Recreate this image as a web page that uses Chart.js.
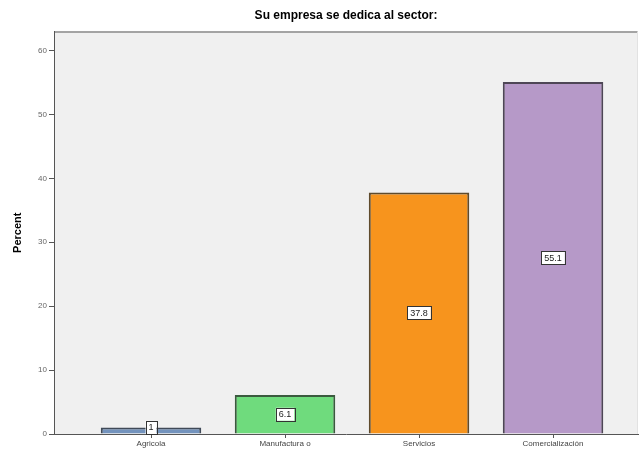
<!DOCTYPE html>
<html>
<head>
<meta charset="utf-8">
<script src="https://cdn.jsdelivr.net/npm/chart.js@4/dist/chart.umd.min.js"></script>
<style>
    html, body { margin: 0; padding: 0; background: #ffffff; }
    #wrap { width: 644px; height: 454px; position: relative; }
</style>
</head>
<body>
<div id="wrap"><canvas id="sector-chart"></canvas></div>
<script>
// Data
const categories = ['Agricola', 'Manufactura o', 'Servicios', 'Comercialización'];
const percents = [1.0, 6.1, 37.8, 55.1];
const valueLabels = ['1', '6.1', '37.8', '55.1'];
const yTicks = [0, 10, 20, 30, 40, 50, 60];

const barColors = ['#7393bd', '#6fdb7d', '#f7941d', '#b699c8'];
const barBorders = ['#404a58', '#3a5a3e', '#5e4a2c', '#4e4656'];

// Gray plot background with a top frame line
const plotBackground = {
    id: 'plotBackground',
    beforeDraw(chart) {
        const { ctx, chartArea: a } = chart;
        ctx.save();
        ctx.fillStyle = '#f0f0f0';
        ctx.fillRect(a.left, a.top, a.right - a.left, a.bottom - a.top);
        ctx.strokeStyle = '#8a8a8a';
        ctx.lineWidth = 1.5;
        ctx.beginPath();
        ctx.moveTo(a.left, a.top + 0.5);
        ctx.lineTo(a.right, a.top + 0.5);
        ctx.stroke();
        ctx.strokeStyle = '#e2e2e2';
        ctx.lineWidth = 1;
        ctx.beginPath();
        ctx.moveTo(a.right - 0.5, a.top);
        ctx.lineTo(a.right - 0.5, a.bottom);
        ctx.stroke();
        ctx.restore();
    }
};

// Boxed value labels in the middle of each bar
const boxedLabels = {
    id: 'boxedLabels',
    afterDatasetsDraw(chart) {
        const { ctx } = chart;
        const meta = chart.getDatasetMeta(0);
        ctx.save();
        ctx.font = '9px "Liberation Sans", Arial, sans-serif';
        ctx.textAlign = 'center';
        ctx.textBaseline = 'middle';
        meta.data.forEach((bar, i) => {
            const text = valueLabels[i];
            const cx = bar.x;
            const cy = Math.min((bar.y + bar.base) / 2, bar.base - 6);
            const w = ctx.measureText(text).width + 6;
            const h = 13;
            ctx.fillStyle = '#ffffff';
            ctx.fillRect(cx - w / 2, cy - h / 2, w, h);
            ctx.strokeStyle = '#333333';
            ctx.lineWidth = 1;
            ctx.strokeRect(Math.round(cx - w / 2) + 0.5, Math.round(cy - h / 2) + 0.5, Math.round(w), h);
            ctx.fillStyle = '#222222';
            ctx.fillText(text, cx, cy + 0.5);
        });
        ctx.restore();
    }
};

const ctx = document.getElementById('sector-chart').getContext('2d');
const sectorChart = new Chart(ctx, {
    type: 'bar',
    data: {
        datasets: [{
            label: 'Percent',
            data: percents.map((v, i) => ({ x: i, y: v })),
            backgroundColor: barColors,
            borderColor: barBorders,
            borderWidth: 2,
            categoryPercentage: 1,
            barPercentage: 0.75
        }]
    },
    options: {
        responsive: true,
        maintainAspectRatio: false,
        animation: false,
        layout: { padding: { left: 0, right: 6, top: 0, bottom: 0 } },
        plugins: {
            legend: { display: false },
            tooltip: { enabled: false },
            title: {
                display: true,
                fullSize: false,
                text: 'Su empresa se dedica al sector:',
                color: '#000000',
                font: { family: '"Liberation Sans", Arial, sans-serif', size: 12, weight: 'bold' },
                padding: { top: 8, bottom: 9 }
            }
        },
        scales: {
            x: {
                type: 'linear',
                offset: false,
                min: -0.724,
                max: 3.634,
                afterBuildTicks: scale => {
                    scale.ticks = categories.map((c, i) => ({ value: i }));
                },
                afterFit: scale => { scale.height = 20; },
                ticks: {
                    autoSkip: false,
                    maxRotation: 0,
                    padding: 1,
                    color: '#444444',
                    font: { family: '"Liberation Sans", Arial, sans-serif', size: 8 },
                    callback: value => categories[value]
                },
                grid: { offset: false, drawOnChartArea: false, tickLength: 4, color: '#555555' },
                border: { color: '#555555', width: 1 }
            },
            y: {
                min: 0,
                max: 63,
                afterBuildTicks: scale => {
                    scale.ticks = yTicks.map(v => ({ value: v }));
                },
                afterFit: scale => { scale.width = 54; },
                ticks: {
                    padding: 2,
                    color: '#666666',
                    font: { family: '"Liberation Sans", Arial, sans-serif', size: 8 }
                },
                grid: { drawOnChartArea: false, tickLength: 5, color: '#555555' },
                border: { color: '#555555', width: 1 },
                title: {
                    display: true,
                    text: 'Percent',
                    color: '#000000',
                    font: { family: '"Liberation Sans", Arial, sans-serif', size: 11, weight: 'bold' },
                    padding: { top: 11, bottom: 0 }
                }
            }
        }
    },
    plugins: [plotBackground, boxedLabels]
});
</script>
</body>
</html>
